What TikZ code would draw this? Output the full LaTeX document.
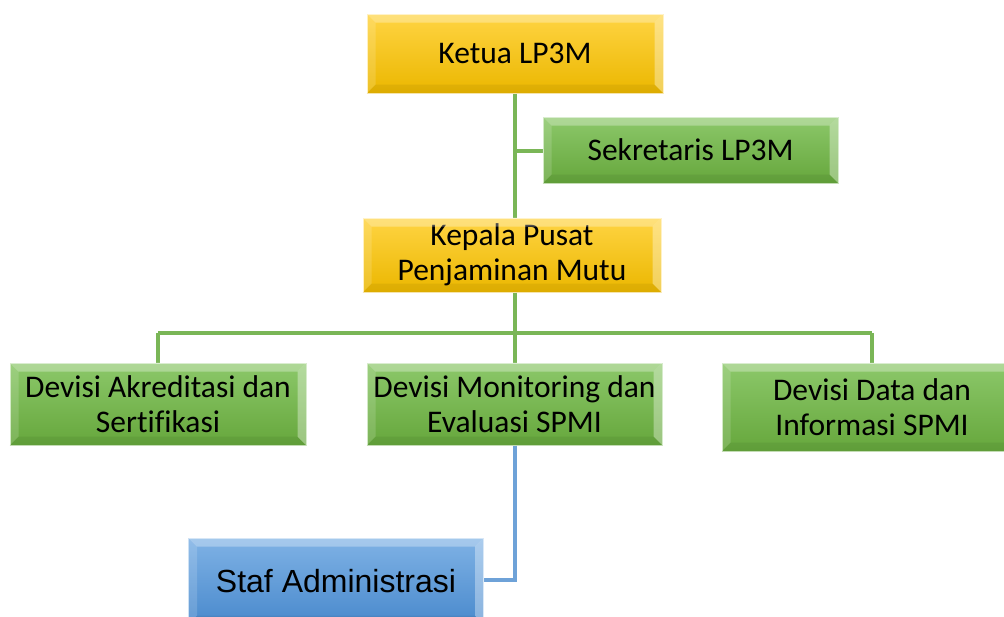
\documentclass[tikz,border=0pt]{standalone}
\usepackage{fontspec}
\setmainfont{Carlito}[Ligatures=NoCommon]
\newfontfamily\arialf{Liberation Sans}
\usetikzlibrary{calc}
\definecolor{goldT}{HTML}{FFD443}
\definecolor{goldB}{HTML}{EBB700}
\definecolor{grnT}{HTML}{8CC86A}
\definecolor{grnB}{HTML}{66A73C}
\definecolor{bluT}{HTML}{7FB2E5}
\definecolor{bluB}{HTML}{4A8ACD}
\definecolor{grnline}{HTML}{7AB657}
\definecolor{bluline}{HTML}{6EA2D8}
\tikzset{
  box/.style={rectangle, inner sep=0pt, align=center, font=\fontsize{31.5}{34.5}\selectfont, text=black},
  goldbox/.style={box, top color=goldT, bottom color=goldB, draw=goldT!40, line width=1pt},
  greenbox/.style={box, top color=grnT, bottom color=grnB, draw=grnT!45, line width=1pt},
  bluebox/.style={box, top color=bluT, bottom color=bluB, draw=bluT!45, line width=1pt},
  gline/.style={draw=grnline, line width=3.2pt},
  bline/.style={draw=bluline, line width=3.2pt},
}
\newcommand\bevl[1]{%
  \fill[white,opacity=.30] (#1.north west) -- (#1.north east) -- ([xshift=-9pt,yshift=-9pt]#1.north east) -- ([xshift=9pt,yshift=-9pt]#1.north west) -- cycle;
  \fill[white,opacity=.15] (#1.north west) -- ([xshift=9pt,yshift=-9pt]#1.north west) -- ([xshift=9pt,yshift=9pt]#1.south west) -- (#1.south west) -- cycle;
  \fill[black,opacity=.06] (#1.south west) -- ([xshift=9pt,yshift=9pt]#1.south west) -- ([xshift=-9pt,yshift=9pt]#1.south east) -- (#1.south east) -- cycle;
  \fill[white,opacity=.35] (#1.north east) -- ([xshift=-9pt,yshift=-9pt]#1.north east) -- ([xshift=-9pt,yshift=9pt]#1.south east) -- (#1.south east) -- cycle;
}
\begin{document}
\begin{tikzpicture}[x=1pt,y=-1pt]
\useasboundingbox (0,0) rectangle (1004,616);
\clip (0,0) rectangle (1004,616);
\coordinate (hl) at (158,333);
\coordinate (hr) at (872,333);
\coordinate (hm) at (515,333);
\coordinate (sj) at (515,151);
\coordinate (sb) at (515,580);
% nodes
\node[goldbox, minimum width=296pt, minimum height=79pt] (ketua) at (515,53.5) {Ketua LP3M};
\node[greenbox, minimum width=295pt, minimum height=66pt] (sek) at (690.5,150) {Sekretaris LP3M};
\node[goldbox, minimum width=298pt, minimum height=74pt] (kep) at (512,255) {Kepala Pusat\\Penjaminan Mutu};
\node[greenbox, minimum width=296pt, minimum height=82pt] (akr) at (158,404) {Devisi Akreditasi dan\\Sertifikasi};
\node[greenbox, minimum width=295pt, minimum height=82pt] (mon) at (514.5,404) {Devisi Monitoring dan\\Evaluasi SPMI};
\node[greenbox, minimum width=300pt, minimum height=88pt] (dat) at (872,407) {Devisi Data dan\\Informasi SPMI};
\node[bluebox, minimum width=295pt, minimum height=86pt, font=\arialf\fontsize{32}{36}\selectfont] (staf) at (336,581) {Staf Administrasi};
% connectors
\path[gline] (ketua.south -| sj) -- (kep.north -| sj);
\path[gline] (sj) -- (sek.west |- sj);
\path[gline] (kep.south -| hm) -- (hm);
\path[gline] (hl) -- (hr);
\path[gline] (hl) -- (akr.north -| hl);
\path[gline] (hm) -- (mon.north -| hm);
\path[gline] (hr) -- (dat.north -| hr);
\path[bline] (mon.south -| sb) -- (sb) -- (staf.east |- sb);
% bevels
\foreach \n in {ketua,sek,kep,akr,mon,dat,staf} {\bevl{\n}}
\end{tikzpicture}
\end{document}
